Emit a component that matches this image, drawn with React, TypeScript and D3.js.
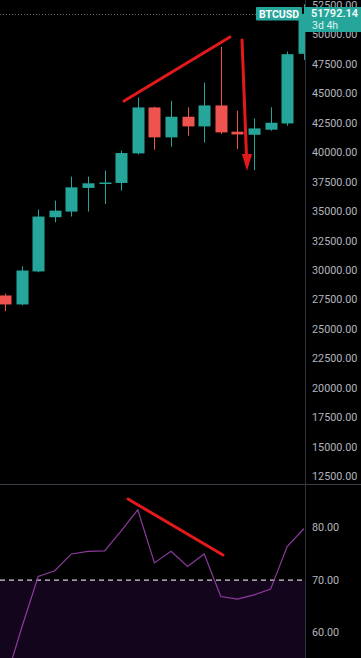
import React from "react";
import * as d3 from "d3";

// ---- Data (3-day BTCUSD candles) ----
const periods = ["P1","P2","P3","P4","P5","P6","P7","P8","P9","P10","P11","P12","P13","P14","P15","P16","P17","P18","P19"];
const opens  = [27880, 27120, 29920, 34520, 35000, 37010, 37360, 37430, 39940, 43840, 41300, 43050, 42230, 44010, 41780, 41520, 41950, 42480, 48390];
const highs  = [28050, 30360, 35170, 35930, 37970, 37970, 38480, 40170, 44690, 43900, 44400, 43840, 45960, 48980, 43560, 42910, 43860, 48590, 52600];
const lows   = [26550, 27050, 29850, 34090, 34580, 35000, 35650, 36780, 39850, 40250, 40510, 41440, 40870, 41590, 40310, 38530, 41860, 42290, 47880];
const closes = [27120, 30000, 34580, 35080, 37060, 37400, 37470, 39970, 43840, 41300, 43050, 42230, 44010, 41720, 41550, 42060, 42540, 48360, 51792.14];
const rsiValues = [50.5, 60.9, 70.7, 71.8, 75.0, 75.5, 75.6, 79.4, 83.4, 73.3, 75.5, 72.6, 75.0, 66.9, 66.4, 67.2, 68.3, 76.4, 79.8];
const priceTicks = [12500, 15000, 17500, 20000, 22500, 25000, 27500, 30000, 32500, 35000, 37500, 40000, 42500, 45000, 47500, 50000, 52500];
const rsiTicks = [60, 70, 80];
const lastPrice = 51792.14;
const symbol = "BTCUSD";
const countdown = "3d 4h";

// ---- Layout ----
const W = 361;
const H = 658;
const AXIS_X = 305;
const SEP_Y = 484;
const UP = "#26a69a";
const DOWN = "#ef5350";
const ANNOT = "#e3191c";
const AXIS_TEXT = "#b2b5be";
const FONT = "Roboto, 'Noto Sans', sans-serif";

export default function App() {
  const x = d3.scaleLinear().domain([0, periods.length - 1]).range([5, 303.8]);
  const y = d3.scaleLinear().domain([12500, 52500]).range([476.7, 5.4]);
  const ry = d3.scaleLinear().domain([60, 80]).range([632.7, 527.7]);
  const bodyW = 12;

  const rsiLine = d3
    .line<number>()
    .x((_, i) => x(i))
    .y((v) => ry(v));

  const fmt = d3.format(".2f");

  return (
    <svg
      width={W}
      height={H}
      style={{ position: "absolute", left: 0, top: 0, display: "block" }}
      xmlns="http://www.w3.org/2000/svg"
    >
      <defs>
        <clipPath id="mainClip">
          <rect x={0} y={0} width={AXIS_X} height={SEP_Y} />
        </clipPath>
        <clipPath id="rsiClip">
          <rect x={0} y={SEP_Y + 0.5} width={AXIS_X} height={H - SEP_Y} />
        </clipPath>
      </defs>
      <rect x={0} y={0} width={W} height={H} fill="#000" />

      {/* Main price pane */}
      <g clipPath="url(#mainClip)">
        <line
          x1={0}
          x2={AXIS_X}
          y1={Math.round(y(lastPrice)) + 0.5}
          y2={Math.round(y(lastPrice)) + 0.5}
          stroke="#5f6b6a"
          strokeWidth={1}
          strokeDasharray="1 2"
        />
        {periods.map((p, i) => {
          const o = opens[i];
          const c = closes[i];
          const col = c >= o ? UP : DOWN;
          const cx = Math.round(x(i)) + 0.5;
          const top = y(Math.max(o, c));
          const bot = y(Math.min(o, c));
          const h = Math.max(1.5, bot - top);
          return (
            <g key={p}>
              <line x1={cx} x2={cx} y1={y(highs[i])} y2={y(lows[i])} stroke={col} strokeWidth={1} />
              <rect x={cx - bodyW / 2} y={top} width={bodyW} height={h} fill={col} />
            </g>
          );
        })}
      </g>

      {/* Annotations on price pane */}
      <line x1={124} y1={101} x2={230} y2={37} stroke={ANNOT} strokeWidth={3} strokeLinecap="round" />
      <line x1={242} y1={40} x2={246.5} y2={156} stroke={ANNOT} strokeWidth={3} strokeLinecap="round" />
      <polygon points="242,154 252,154 247,171" fill={ANNOT} />

      {/* Separators */}
      <line x1={0} x2={W} y1={SEP_Y + 0.5} y2={SEP_Y + 0.5} stroke="#3a3d45" strokeWidth={1} />
      <line x1={AXIS_X + 0.5} x2={AXIS_X + 0.5} y1={0} y2={H} stroke="#2f323a" strokeWidth={1} />

      {/* Price axis labels */}
      {priceTicks.map((t) => (
        <text
          key={t}
          x={312}
          y={y(t)}
          dominantBaseline="central"
          fill={AXIS_TEXT}
          fontFamily={FONT}
          fontSize={10.8}
        >
          {fmt(t)}
        </text>
      ))}

      {/* RSI pane */}
      <g clipPath="url(#rsiClip)">
        <rect x={0} y={ry(70)} width={AXIS_X} height={H - ry(70)} fill="#13051b" />
        <line
          x1={0}
          x2={AXIS_X}
          y1={ry(70)}
          y2={ry(70)}
          stroke="#d6d0da"
          strokeWidth={1.2}
          strokeDasharray="5 4"
        />
        <path d={rsiLine(rsiValues) || ""} fill="none" stroke="#8e3a9e" strokeWidth={1.2} />
      </g>
      <line x1={128} y1={499} x2={223} y2={555} stroke={ANNOT} strokeWidth={3} strokeLinecap="round" />

      {rsiTicks.map((t) => (
        <text
          key={t}
          x={312}
          y={ry(t)}
          dominantBaseline="central"
          fill={AXIS_TEXT}
          fontFamily={FONT}
          fontSize={10.8}
        >
          {fmt(t)}
        </text>
      ))}

      {/* Last price labels */}
      <rect x={256} y={7} width={46} height={13.5} fill={UP} rx={1} />
      <text
        x={279}
        y={14}
        textAnchor="middle"
        dominantBaseline="central"
        fill="#ffffff"
        fontFamily={FONT}
        fontWeight={700}
        fontSize={10.5}
      >
        {symbol}
      </text>
      <rect x={AXIS_X - 1} y={7} width={W - AXIS_X + 1} height={25} fill={UP} />
      <text
        x={311}
        y={13.8}
        dominantBaseline="central"
        fill="#f2fbfa"
        fontFamily={FONT}
        fontWeight={600}
        fontSize={11}
      >
        {fmt(lastPrice)}
      </text>
      <text
        x={312}
        y={25.5}
        dominantBaseline="central"
        fill="#dff4f1"
        fontFamily={FONT}
        fontSize={10.5}
      >
        {countdown}
      </text>
    </svg>
  );
}
